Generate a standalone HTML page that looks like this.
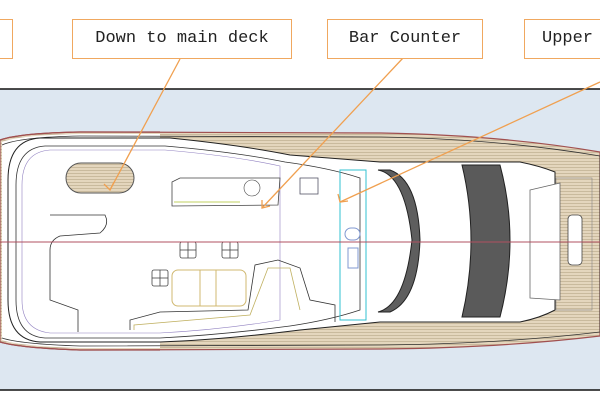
<!DOCTYPE html>
<html><head><style>
html,body{margin:0;padding:0;background:#fff;}
body{width:600px;height:400px;overflow:hidden;position:relative;font-family:"Liberation Mono","DejaVu Sans Mono",monospace;}
.box{position:absolute;border:1.5px solid #f0a860;background:#fff;font-size:17px;color:#222;box-sizing:border-box;text-align:center;line-height:37px;height:40px;top:19px;}
</style></head><body>
<svg width="600" height="400" style="position:absolute;left:0;top:0">
<defs>
<pattern id="teak" width="6" height="3" patternUnits="userSpaceOnUse">
<rect width="6" height="3" fill="#e4d6bd"/><line x1="0" y1="2.5" x2="6" y2="2.5" stroke="#b8a888" stroke-width="0.6"/>
</pattern>
</defs>
<rect x="0" y="89" width="600" height="301" fill="#dde7f1"/>
<line x1="0" y1="89" x2="600" y2="89" stroke="#111" stroke-width="1.5"/>
<line x1="0" y1="390" x2="600" y2="390" stroke="#111" stroke-width="1.5"/>
<!-- hull -->
<path d="M0,140 Q20,133 80,132 L380,133 Q500,135 600,152 L600,336 Q500,348 380,349 L80,350 Q20,348 0,342 Z" fill="url(#teak)" stroke="#a05050" stroke-width="1.2"/>
<path d="M2,142 Q20,135 80,134 L160,134 L160,348 L80,348 Q20,346 2,340 Z" fill="#fff"/>
<path d="M0,140 Q20,133 80,132 L160,132 M0,342 Q20,348 80,350 L160,350" fill="none" stroke="#a05050" stroke-width="1.2"/>
<path d="M2,145 Q20,137 80,136 L380,137 Q500,139 600,156 L600,332 Q500,344 380,345 L80,346 Q20,344 2,338" fill="none" stroke="#333" stroke-width="0.8"/>
<!-- inner deck -->
<path d="M40,138 L170,138 Q240,145 290,155 L380,162 L520,162 Q540,166 555,172 L555,310 Q540,318 520,322 L380,322 L300,330 Q220,340 160,342 L40,342 Q8,340 8,300 L8,180 Q8,140 40,138 Z" fill="#fff" stroke="#222" stroke-width="1"/>
<path d="M45,146 L165,146 Q235,152 285,162 Q330,168 360,178 L360,310 Q330,320 290,326 Q220,335 160,338 L45,338 Q16,336 16,300 L16,185 Q16,148 45,146 Z" fill="none" stroke="#333" stroke-width="0.8"/>
<path d="M50,150 L165,150 Q235,156 280,166 L280,320 Q220,330 160,333 L50,333 Q22,330 22,300 L22,185 Q22,152 50,150 Z" fill="none" stroke="#9080c0" stroke-width="0.6"/>
<!-- bow teak -->
<rect x="556" y="178" width="36" height="132" fill="url(#teak)" stroke="#888" stroke-width="0.6"/>
<path d="M530,190 L560,183 L560,300 L530,298 Q530,240 530,190 Z" fill="#fff" stroke="#666" stroke-width="0.8"/>
<rect x="568" y="215" width="14" height="50" rx="4" fill="#fff" stroke="#444" stroke-width="0.8"/>
<!-- dark arcs -->
<path d="M462,165 L500,165 Q520,240 500,317 L462,317 Q480,240 462,165 Z" fill="#5a5a5a" stroke="#222"/>
<path d="M378,170 Q405,175 412,240 Q405,305 378,312 L390,312 Q418,300 420,240 Q418,180 390,170 Z" fill="#5e5e5e" stroke="#222"/>
<!-- bar counter area -->
<rect x="340" y="170" width="26" height="150" fill="none" stroke="#30c0d0" stroke-width="1"/>
<rect x="345" y="228" width="15" height="12" rx="6" fill="none" stroke="#8098d0"/>
<rect x="348" y="248" width="10" height="20" fill="none" stroke="#8098d0"/>
<!-- staircase -->
<rect x="66" y="163" width="68" height="30" rx="15" fill="url(#teak)" stroke="#555"/>
<!-- sofa top -->
<path d="M172,182 L180,178 L280,178 L278,205 L172,206 Z" fill="#fff" stroke="#444" stroke-width="0.8"/>
<line x1="174" y1="202" x2="240" y2="202" stroke="#c0d060" stroke-width="1"/>
<circle cx="252" cy="188" r="8" fill="none" stroke="#444" stroke-width="0.6"/>
<rect x="300" y="178" width="18" height="16" fill="none" stroke="#556" stroke-width="0.8"/>
<!-- lounge -->
<path d="M50,215 L105,215 Q110,225 100,233 L60,236 Q50,240 50,250 L50,300 L78,310 L78,332" fill="none" stroke="#333" stroke-width="0.8"/>
<path d="M130,330 L130,320 L160,312 L248,310 L255,265 L278,260 L300,268 L310,300 L335,305 L335,322" fill="none" stroke="#333" stroke-width="0.8"/>
<path d="M134,330 L134,325 L250,315 L268,268 L290,268 L300,310" fill="none" stroke="#c0b060" stroke-width="0.8"/>
<rect x="172" y="270" width="74" height="36" rx="6" fill="none" stroke="#d0b870"/>
<line x1="200" y1="270" x2="200" y2="306" stroke="#d0b870"/><line x1="216" y1="270" x2="216" y2="306" stroke="#d0b870"/>
<g fill="none" stroke="#444" stroke-width="0.8">
<rect x="180" y="242" width="16" height="16" rx="2"/><line x1="188" y1="242" x2="188" y2="258"/><line x1="180" y1="250" x2="196" y2="250"/>
<rect x="222" y="242" width="16" height="16" rx="2"/><line x1="230" y1="242" x2="230" y2="258"/><line x1="222" y1="250" x2="238" y2="250"/>
<rect x="152" y="270" width="16" height="16" rx="2"/><line x1="160" y1="270" x2="160" y2="286"/><line x1="152" y1="278" x2="168" y2="278"/>
</g>
<!-- center line -->
<line x1="0" y1="242" x2="600" y2="242" stroke="#b05060" stroke-width="1"/>
<!-- leaders -->
<g stroke="#f0a050" stroke-width="1.3" fill="none">
<line x1="180" y1="59" x2="110" y2="190"/>
<line x1="403" y1="58" x2="262" y2="208"/>
<line x1="600" y1="82" x2="340" y2="202"/>
<path d="M104,184 L110,190 L114,182"/>
<path d="M262,200 L262,208 L270,206"/>
<path d="M338,194 L340,202 L348,201"/>
</g>
</svg>
<div class="box" style="left:-40px;width:53px;"></div>
<div class="box" style="left:72px;width:220px;">Down to main deck</div>
<div class="box" style="left:327px;width:156px;">Bar Counter</div>
<div class="box" style="left:524px;width:100px;text-align:left;padding-left:17px;">Upper</div>
</body></html>
